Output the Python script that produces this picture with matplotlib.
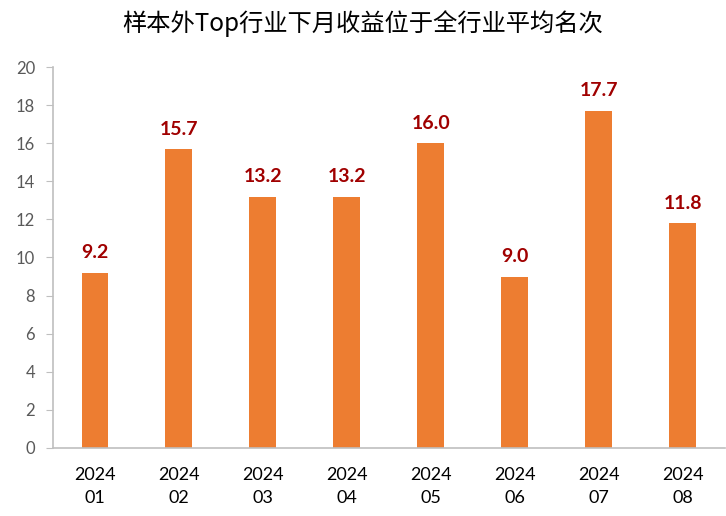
import numpy as np
import matplotlib
matplotlib.use('Agg')
import matplotlib.pyplot as plt

plt.rcParams['font.family'] = ['Lato', 'Noto Sans CJK SC', 'DejaVu Sans']

months = ['2024\n01', '2024\n02', '2024\n03', '2024\n04',
          '2024\n05', '2024\n06', '2024\n07', '2024\n08']
ranks = [9.2, 15.7, 13.2, 13.2, 16.0, 9.0, 17.7, 11.8]
title = '样本外Top行业下月收益位于全行业平均名次'

fig = plt.figure(figsize=(7.26, 5.16), dpi=100)
ax = fig.add_axes([0.073, 0.132, 0.925, 0.738])

x = np.arange(len(months))
bars = ax.bar(x, ranks, width=0.32, color='#ED7D31')
for xi, v in zip(x, ranks):
    ax.text(xi, v + 0.6, f'{v:.1f}', ha='center', va='bottom',
            fontsize=14, fontweight='bold', color='#A00000')

ax.set_xlim(-0.5, len(months) - 0.5)
ax.set_ylim(0, 20)
ax.set_yticks(np.arange(0, 21, 2))
ax.set_xticks(x)
ax.set_xticklabels(months, fontsize=13, color='#000000', linespacing=1.5)
ax.tick_params(axis='x', length=0, pad=14)
ax.tick_params(axis='y', length=5, color='#BFBFBF', labelsize=12,
               labelcolor='#595959', pad=8)
for s in ['top', 'right']:
    ax.spines[s].set_visible(False)
for s in ['left', 'bottom']:
    ax.spines[s].set_color('#BFBFBF')
    ax.spines[s].set_linewidth(1.2)

fig.text(0.5, 0.955, title, ha='center', va='center', fontsize=17.5,
         fontweight='light',
         family=['Noto Sans CJK SC', 'DejaVu Sans'], color='#000000')

fig.savefig('out.png', dpi=100)
